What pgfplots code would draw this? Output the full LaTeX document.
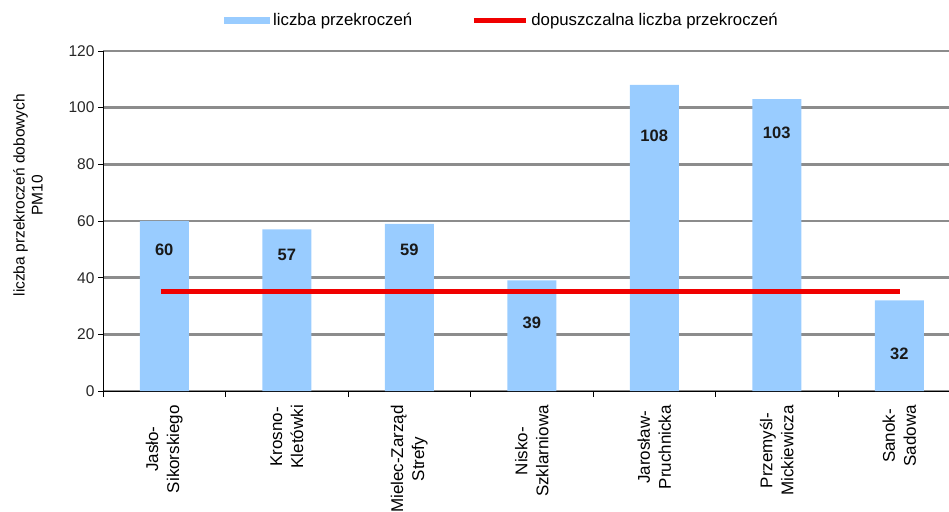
\documentclass[border=0pt]{standalone}
\usepackage{fontspec}
\setmainfont{Liberation Sans}
\usepackage{pgfplots}
\pgfplotsset{compat=1.18}
\definecolor{barblue}{HTML}{99CCFF}
\definecolor{gridgray}{HTML}{8C8C8C}
\definecolor{linered}{HTML}{F00000}
\newcommand{\fs}{\fontsize{15.5}{18}\selectfont}
\newcommand{\fl}{\fontsize{16.8}{20}\selectfont}
\newcommand{\fc}{\fontsize{17}{21}\selectfont}
\begin{document}
\begin{tikzpicture}
\useasboundingbox (0,0) rectangle (949pt,511pt);
\clip (0,0) rectangle (949pt,511pt);
\begin{axis}[
  at={(103pt,120pt)}, anchor=south west,
  scale only axis, width=857.5pt, height=340pt,
  xmin=-0.5, xmax=6.5, ymin=0, ymax=120,
  axis lines=left, axis line style={-, black, line width=0.8pt},
  ytick={0,20,...,120},
  ymajorgrids, grid style={gridgray, line width=2.8pt},
  xtick={0,...,6},
  xticklabels={{Jasło-\\Sikorskiego},{Krosno-\\Kletówki},{Mielec-Zarząd\\Strefy},{Nisko-\\Szklarniowa},{Jarosław-\\Pruchnicka},{Przemyśl-\\Mickiewicza},{Sanok-\\Sadowa}},
  minor xtick={-0.5,0.5,...,6.5},
  major x tick style={draw=none},
  minor x tick style={black, line width=0.8pt},
  ytick style={black, line width=0.8pt},
  tick align=outside, major tick length=5pt, minor tick length=6pt,
  /pgf/number format/assume math mode=true,
  tick label style={font=\fs},
  yticklabel style={text=black!85},
  xticklabel style={rotate=90, anchor=east, align=center, font=\fc, inner sep=0pt, xshift=-9pt},
  ylabel={liczba przekroczeń dobowych\\PM10},
  ylabel style={at={(axis description cs:-0.0875,0.576)}, anchor=center, align=center, font=\fs},
  legend style={draw=none, fill=none, font=\fl, legend columns=2,
    at={(0.1411,1.091)}, anchor=west, inner xsep=0pt,
    /tikz/every even column/.append style={column sep=56pt},
    nodes={inner xsep=3pt}},
  legend cell align=left,
]
\addplot[ybar, bar width=49pt, fill=barblue, draw=none,
  legend image code/.code={\fill[barblue] (0pt,-3.5pt) rectangle (46pt,3.5pt);}]
  coordinates {(0,60) (1,57) (2,59) (3,39) (4,108) (5,103) (6,32)};
\addlegendentry{liczba przekroczeń}
\addplot[linered, line width=5pt, mark=none,
  legend image code/.code={\draw[linered, line width=5pt] (0pt,0pt) -- (52pt,0pt);}]
  coordinates {(-0.03,35) (6.01,35)};
\addlegendentry{dopuszczalna liczba przekroczeń}
\addplot[draw=none, mark=none, forget plot,
  nodes near coords, point meta=explicit symbolic,
  every node near coord/.append style={anchor=center, font=\fontsize{16.5}{19}\selectfont\bfseries, text=black!90}]
  coordinates {(0,50)[60] (1,48)[57] (2,50)[59] (3,24)[39] (4,90)[108] (5,91)[103] (6,13)[32]};
\end{axis}
\end{tikzpicture}
\end{document}
